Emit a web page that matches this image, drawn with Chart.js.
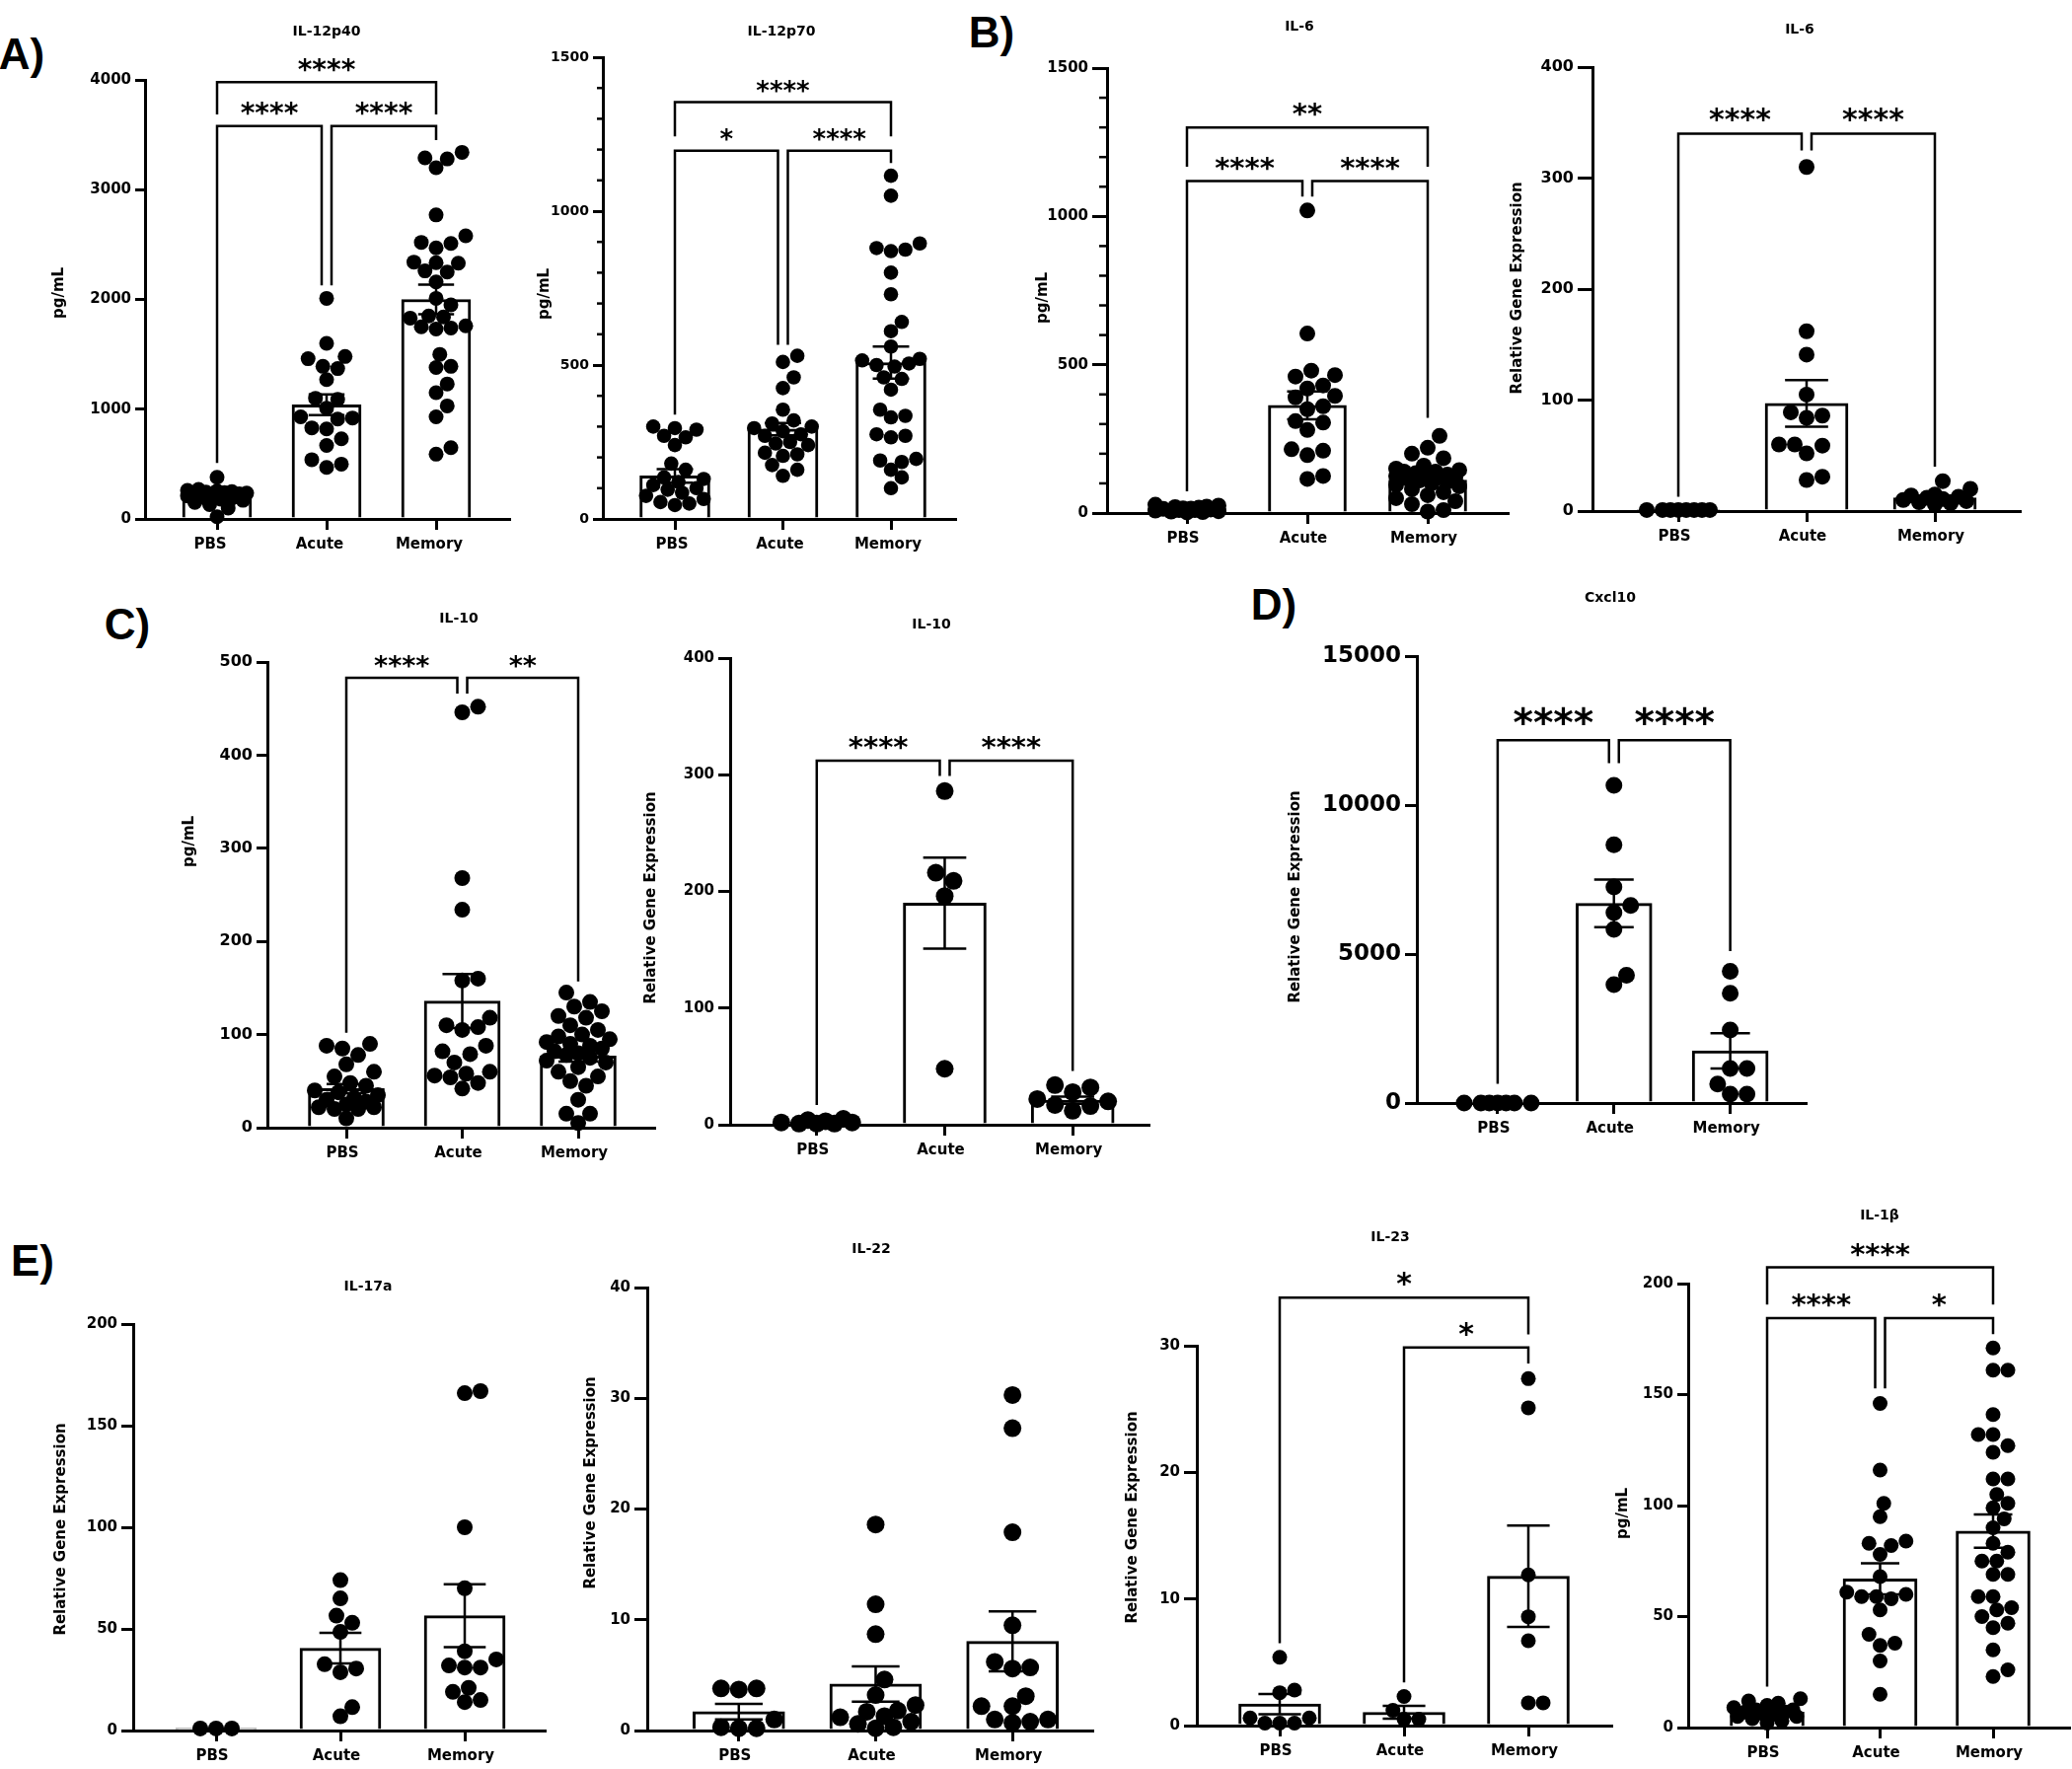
<!DOCTYPE html>
<html>
<head>
<meta charset="utf-8">
<script src="https://cdn.jsdelivr.net/npm/chart.js@4.4.1/dist/chart.umd.min.js"></script>
<style>
  body { margin: 0; background: #fff; }
  #page { position: relative; width: 2100px; height: 1793px; background: #fff; overflow: hidden; }
  #page canvas { position: absolute; }
  .letter { position: absolute; font: bold 44px "Liberation Sans", Arial, sans-serif; color: #000; line-height: 1; transform: translate(-50%, -50%); }
</style>
</head>
<body>
<div id="page"></div>
<script>
const FONT = 'DejaVu Sans';
const groups = ['PBS', 'Acute', 'Memory'];

// IL-12p40 (pg/mL)
const il12p40Pbs = [380, 270, 260, 255, 250, 245, 240, 235, 230, 225, 220, 210, 200, 190, 180, 170, 150, 130, 100, 20];
const il12p40Acute = [2010, 1600, 1480, 1460, 1390, 1370, 1270, 1100, 1090, 1010, 930, 920, 910, 830, 820, 730, 670, 540, 500, 470];
const il12p40Memory = [3340, 3290, 3280, 3200, 2770, 2580, 2520, 2510, 2470, 2340, 2335, 2330, 2260, 2250, 2160, 2010, 1950, 1850, 1840, 1830, 1760, 1750, 1740, 1730, 1500, 1390, 1380, 1230, 1150, 1030, 930, 650, 590];
const il12p40Mean = [215, 1040, 2000];
const il12p40Sem = [18, 95, 135];
const il12p40Ticks = [0, 1000, 2000, 3000, 4000];

// IL-12p70 (pg/mL)
const il12p70Pbs = [300, 295, 290, 270, 265, 240, 180, 160, 135, 130, 120, 110, 100, 95, 85, 75, 65, 55, 50, 45];
const il12p70Acute = [530, 510, 460, 425, 355, 320, 310, 300, 295, 285, 275, 270, 250, 245, 240, 215, 210, 205, 175, 160, 140];
const il12p70Memory = [1115, 1050, 895, 880, 875, 870, 800, 730, 640, 610, 560, 520, 515, 505, 500, 495, 460, 455, 420, 355, 335, 330, 275, 270, 265, 195, 190, 185, 160, 135, 100];
const il12p70Mean = [140, 292, 508];
const il12p70Sem = [22, 20, 52];
const il12p70Ticks = [0, 500, 1000, 1500];

// IL-6 (pg/mL)
const il6Pbs = [28, 25, 22, 20, 18, 16, 15, 14, 12, 10, 10, 8, 6, 5, 3, 2];
const il6Acute = [1020, 605, 480, 465, 460, 430, 420, 395, 390, 360, 350, 310, 305, 280, 215, 210, 195, 125, 115];
const il6Memory = [260, 220, 200, 185, 160, 150, 145, 140, 140, 135, 130, 130, 125, 120, 120, 115, 110, 105, 100, 95, 90, 80, 70, 60, 50, 40, 30, 10, 5];
const il6Mean = [15, 363, 111];
const il6Sem = [2, 47, 11];
const il6Ticks = [0, 500, 1000, 1500];

// IL-6 (relative gene expression)
const il6gPbs = [1, 1, 1, 1, 1, 1, 1, 1];
const il6gAcute = [310, 162, 141, 105, 89, 86, 84, 60, 60, 59, 52, 31, 28];
const il6gMemory = [27, 20, 15, 14, 13, 12, 11, 10, 9, 8, 7, 6];
const il6gMean = [1, 97, 12];
const il6gSem = [0.1, 21, 2];
const il6gTicks = [0, 100, 200, 300, 400];

// IL-10 (pg/mL)
const il10Pbs = [90, 88, 85, 78, 68, 60, 55, 48, 45, 40, 38, 35, 32, 30, 28, 25, 22, 22, 20, 20, 10];
const il10Acute = [452, 446, 268, 234, 160, 158, 118, 110, 108, 105, 88, 82, 79, 70, 60, 58, 56, 54, 48, 42];
const il10Memory = [145, 135, 130, 125, 120, 118, 110, 105, 100, 98, 95, 92, 90, 88, 85, 82, 80, 78, 75, 72, 70, 65, 60, 55, 50, 45, 30, 15, 15, 5];
const il10Mean = [42, 136, 77];
const il10Sem = [5, 29, 6];
const il10Ticks = [0, 100, 200, 300, 400, 500];

// IL-10 (relative gene expression)
const il10gPbs = [5, 4, 3, 2, 2, 1, 1, 1];
const il10gAcute = [286, 216, 209, 196, 48];
const il10gMemory = [34, 32, 28, 22, 20, 17, 16, 12];
const il10gMean = [2, 190, 21];
const il10gSem = [0.5, 39, 3];
const il10gTicks = [0, 100, 200, 300, 400];

// Cxcl10 (relative gene expression)
const cxcl10Pbs = [1, 1, 1, 1, 1, 1, 1];
const cxcl10Acute = [10660, 8670, 7250, 6630, 6390, 5830, 4290, 3970];
const cxcl10Memory = [4420, 3680, 2450, 1160, 1160, 640, 300, 300];
const cxcl10Mean = [1, 6700, 1750];
const cxcl10Sem = [0.1, 800, 590];
const cxcl10Ticks = [0, 5000, 10000, 15000];

// IL-17a (relative gene expression)
const il17Pbs = [1, 1, 1];
const il17Acute = [74, 65, 56.5, 53, 48.5, 32.6, 30.5, 28.7, 11.5, 7];
const il17Memory = [167, 166, 100, 70, 39, 35, 32, 31, 31, 21, 19, 15, 14];
const il17Mean = [1, 40.5, 56.5];
const il17Sem = [0, 7.5, 15.5];
const il17Ticks = [0, 50, 100, 150, 200];

// IL-22 (relative gene expression)
const il22Pbs = [3.8, 3.8, 3.7, 1.0, 0.3, 0.2, 0.2];
const il22Acute = [18.6, 11.4, 8.7, 4.6, 3.2, 2.3, 1.8, 1.7, 1.3, 1.2, 0.8, 0.6, 0.3, 0.2];
const il22Memory = [30.3, 27.3, 17.9, 9.5, 6.2, 5.7, 5.6, 3.1, 2.2, 2.2, 1.0, 1.0, 0.8, 0.7];
const il22Mean = [1.7, 4.2, 8.05];
const il22Sem = [0.7, 1.6, 2.7];
const il22Ticks = [0, 10, 20, 30, 40];

// IL-23 (relative gene expression)
const il23Pbs = [5.4, 2.8, 2.6, 0.6, 0.6, 0.2, 0.2, 0.2];
const il23Acute = [2.3, 1.2, 0.5, 0.5];
const il23Memory = [27.4, 25.1, 11.9, 8.6, 6.7, 1.8, 1.8];
const il23Mean = [1.7, 1.05, 11.8];
const il23Sem = [0.8, 0.5, 4.0];
const il23Ticks = [0, 10, 20, 30];

// IL-1b (pg/mL)
const il1bPbs = [13, 12, 11, 10, 9, 8, 8, 7, 7, 6, 6, 5, 5, 4, 3, 2];
const il1bAcute = [146, 116, 101, 95, 84, 83, 82, 78, 68, 61, 60, 59, 59, 58, 53, 42, 38, 37, 30, 15];
const il1bMemory = [171, 161, 161, 141, 132, 132, 127, 124, 112, 112, 105, 101, 99, 94, 90, 83, 79, 75, 75, 69, 69, 59, 59, 54, 53, 50, 47, 45, 35, 26, 23];
const il1bMean = [7, 67, 88.5];
const il1bSem = [0.8, 7, 7.5];
const il1bTicks = [0, 50, 100, 150, 200];

const PG = 'pg/mL';
const RGE = 'Relative Gene Expression';

// layout of every panel, page pixels
const panels = [
  { title: 'IL-12p40', ylab: PG, pts: [il12p40Pbs, il12p40Acute, il12p40Memory], mean: il12p40Mean, sem: il12p40Sem, ticks: il12p40Ticks,
    ax: 147, xe: 516, yt: 81, yb: 526, c0: 220, c2: 442, bw: 70, r: 7.5, tl: 10, tf: 15, tx: 331, ty: 32, lx: 60, ly: 297, sf: 28, xOff: -7,
    sig: [{a: 0, b: 1, t: '****', y: 3580, la: 510, lb: 2127}, {a: 1, b: 2, t: '****', y: 3580, la: 2127, lb: 3451}, {a: 0, b: 2, t: '****', y: 3980, la: 3686, lb: 3686}] },
  { title: 'IL-12p70', ylab: PG, pts: [il12p70Pbs, il12p70Acute, il12p70Memory], mean: il12p70Mean, sem: il12p70Sem, ticks: il12p70Ticks,
    ax: 611, xe: 968, yt: 58, yb: 526, c0: 684, c2: 903, bw: 71, r: 7.3, tl: 10, tf: 14, minor: 100, ml: 6, tx: 792, ty: 32, lx: 552, ly: 298, sf: 26, xOff: -3,
    sig: [{a: 0, b: 1, t: '*', y: 1196, la: 339, lb: 566}, {a: 1, b: 2, t: '****', y: 1196, la: 566, lb: 1156}, {a: 0, b: 2, t: '****', y: 1354, la: 1243, lb: 1243}] },
  { title: 'IL-6', ylab: PG, pts: [il6Pbs, il6Acute, il6Memory], mean: il6Mean, sem: il6Sem, ticks: il6Ticks,
    ax: 1122, xe: 1528, yt: 69, yb: 520, c0: 1203, c2: 1447, bw: 79, r: 8, tl: 15, tf: 15, minor: 100, ml: 8, tx: 1317, ty: 27, lx: 1057, ly: 302, sf: 29, xOff: -4,
    sig: [{a: 0, b: 1, t: '****', y: 1119, la: 73, lb: 1067}, {a: 1, b: 2, t: '****', y: 1119, la: 1067, lb: 321}, {a: 0, b: 2, t: '**', y: 1300, la: 1167, lb: 1167}] },
  { title: 'IL-6', ylab: RGE, pts: [il6gPbs, il6gAcute, il6gMemory], mean: il6gMean, sem: il6gSem, ticks: il6gTicks,
    ax: 1614, xe: 2047, yt: 68, yb: 518, c0: 1701, c2: 1961, bw: 84, r: 8, tl: 15, tf: 16, tx: 1824, ty: 30, lx: 1538, ly: 292, sf: 30, xOff: -4,
    sig: [{a: 0, b: 1, t: '****', y: 340, la: 13, lb: 325}, {a: 1, b: 2, t: '****', y: 340, la: 325, lb: 40}] },
  { title: 'IL-10', ylab: PG, pts: [il10Pbs, il10Acute, il10Memory], mean: il10Mean, sem: il10Sem, ticks: il10Ticks,
    ax: 271, xe: 663, yt: 671, yb: 1143, c0: 351, c2: 586, bw: 77, r: 8, tl: 11, tf: 16, tx: 465, ty: 627, lx: 192, ly: 853, sf: 27, xOff: -4,
    sig: [{a: 0, b: 1, t: '****', y: 483, la: 102, lb: 466}, {a: 1, b: 2, t: '**', y: 483, la: 466, lb: 157}] },
  { title: 'IL-10', ylab: RGE, pts: [il10gPbs, il10gAcute, il10gMemory], mean: il10gMean, sem: il10gSem, ticks: il10gTicks,
    ax: 740, xe: 1165, yt: 667, yb: 1140, c0: 828, c2: 1088, bw: 84, r: 9, tl: 12, tf: 15, tx: 944, ty: 633, lx: 660, ly: 910, sf: 29, xOff: -4,
    sig: [{a: 0, b: 1, t: '****', y: 312, la: 17, lb: 299}, {a: 1, b: 2, t: '****', y: 312, la: 299, lb: 46}] },
  { title: 'Cxcl10', ylab: RGE, pts: [cxcl10Pbs, cxcl10Acute, cxcl10Memory], mean: cxcl10Mean, sem: cxcl10Sem, ticks: cxcl10Ticks,
    ax: 1436, xe: 1831, yt: 665, yb: 1118, c0: 1518, c2: 1754, bw: 77, r: 8.5, tl: 12, tf: 23, tx: 1632, ty: 606, lx: 1313, ly: 909, sf: 39, xOff: -4,
    sig: [{a: 0, b: 1, t: '****', y: 12181, la: 644, lb: 11408}, {a: 1, b: 2, t: '****', y: 12181, la: 11408, lb: 5099}] },
  { title: 'IL-17a', ylab: RGE, pts: [il17Pbs, il17Acute, il17Memory], mean: il17Mean, sem: il17Sem, ticks: il17Ticks,
    ax: 135, xe: 552, yt: 1342, yb: 1754, c0: 219, c2: 471, bw: 82, r: 8, tl: 12, tf: 15, tx: 373, ty: 1304, lx: 62, ly: 1550, sf: 28, xOff: -4, sig: [] },
  { title: 'IL-22', ylab: RGE, pts: [il22Pbs, il22Acute, il22Memory], mean: il22Mean, sem: il22Sem, ticks: il22Ticks,
    ax: 656, xe: 1108, yt: 1305, yb: 1754, c0: 749, c2: 1027, bw: 93, r: 9, tl: 13, tf: 15, tx: 883, ty: 1266, lx: 599, ly: 1503, sf: 28, xOff: -4, sig: [] },
  { title: 'IL-23', ylab: RGE, pts: [il23Pbs, il23Acute, il23Memory], mean: il23Mean, sem: il23Sem, ticks: il23Ticks,
    ax: 1213, xe: 1633, yt: 1364, yb: 1749, c0: 1297, c2: 1549, bw: 83, r: 7.5, tl: 13, tf: 15, tx: 1409, ty: 1254, lx: 1148, ly: 1538, sf: 30, xOff: -4,
    sig: [{a: 0, b: 2, t: '*', y: 33.8, la: 6.5, lb: 30.9}, {a: 1, b: 2, t: '*', y: 29.86, la: 3.4, lb: 28.6}] },
  { title: 'IL-1β', ylab: PG, pts: [il1bPbs, il1bAcute, il1bMemory], mean: il1bMean, sem: il1bSem, ticks: il1bTicks,
    ax: 1711, xe: 2097, yt: 1301, yb: 1751, c0: 1791, c2: 2020, bw: 75, r: 7.5, tl: 11, tf: 15, tx: 1905, ty: 1232, lx: 1645, ly: 1534, sf: 29, xOff: -4,
    sig: [{a: 0, b: 1, t: '****', y: 184.4, la: 18.5, lb: 152.8}, {a: 1, b: 2, t: '*', y: 184.4, la: 152.8, lb: 177.2}, {a: 0, b: 2, t: '****', y: 207.3, la: 190.6, lb: 190.6}] }
];

const letters = [['A)', 22, 55], ['B)', 1005, 33], ['C)', 129, 633], ['D)', 1291, 613], ['E)', 33, 1278]];

const page = document.getElementById('page');

letters.forEach(([t, x, y]) => {
  const d = document.createElement('div');
  d.className = 'letter';
  d.textContent = t;
  d.style.left = x + 'px';
  d.style.top = y + 'px';
  page.appendChild(d);
});

// spread the dots of one group sideways so they do not pile up (beeswarm)
function swarm(vals, gi, p, ymax) {
  const ppy = (p.yb - p.yt) / ymax;
  const sp = (p.c2 - p.c0) / 2;
  const lim = p.bw * 0.45;
  const placed = [];
  const out = [];
  vals.slice().sort((a, b) => a - b).forEach(v => {
    const py = v * ppy;
    let best = 0, bestGap = -1;
    for (let k = 0; ; k++) {
      const off = (k % 2 ? 1 : -1) * Math.ceil(k / 2) * p.r * 0.5;
      if (Math.abs(off) > lim) break;
      let gap = Infinity;
      placed.forEach(q => { gap = Math.min(gap, Math.hypot(q[0] - off, q[1] - py)); });
      if (gap >= p.r * 1.84) { best = off; break; }
      if (gap > bestGap) { bestGap = gap; best = off; }
    }
    placed.push([best, py]);
    out.push({ x: gi + best / sp, y: v });
  });
  return out;
}

function extras(p, left, top, ymax) {
  return {
    id: 'extras',
    afterDraw(chart) {
      const ctx = chart.ctx, xs = chart.scales.x, ys = chart.scales.y;
      ctx.save();
      ctx.fillStyle = '#000';
      ctx.strokeStyle = '#000';

      // minor ticks
      if (p.minor) {
        ctx.lineWidth = 2.5;
        const ax = chart.chartArea.left;
        for (let v = p.minor; v < ymax; v += p.minor) {
          if (p.ticks.includes(v)) continue;
          const y = ys.getPixelForValue(v);
          ctx.beginPath();
          ctx.moveTo(ax - p.ml, y);
          ctx.lineTo(ax, y);
          ctx.stroke();
        }
      }

      // error bars (mean +/- SEM)
      ctx.lineWidth = 2.5;
      p.mean.forEach((m, i) => {
        const x = xs.getPixelForValue(i);
        const hi = ys.getPixelForValue(m + p.sem[i]);
        const lo = ys.getPixelForValue(Math.max(0, m - p.sem[i]));
        const c = p.bw * 0.26;
        ctx.beginPath();
        ctx.moveTo(x, lo); ctx.lineTo(x, hi);
        ctx.moveTo(x - c, hi); ctx.lineTo(x + c, hi);
        ctx.moveTo(x - c, lo); ctx.lineTo(x + c, lo);
        ctx.stroke();
      });

      // significance brackets
      p.sig.forEach(s => {
        const same = o => o !== s && Math.abs(o.y - s.y) < 1e-9;
        let xa = xs.getPixelForValue(s.a), xb = xs.getPixelForValue(s.b);
        if (p.sig.some(o => same(o) && o.b === s.a)) xa += 5;
        if (p.sig.some(o => same(o) && o.a === s.b)) xb -= 5;
        const yl = ys.getPixelForValue(s.y);
        ctx.lineWidth = 2.5;
        ctx.beginPath();
        ctx.moveTo(xa, ys.getPixelForValue(s.la));
        ctx.lineTo(xa, yl);
        ctx.lineTo(xb, yl);
        ctx.lineTo(xb, ys.getPixelForValue(s.lb));
        ctx.stroke();
        ctx.font = 'bold ' + p.sf + 'px "' + FONT + '"';
        ctx.textAlign = 'center';
        ctx.textBaseline = 'alphabetic';
        const mt = ctx.measureText(s.t);
        const cy = yl - p.sf * 0.62;
        ctx.fillText(s.t, (xa + xb) / 2, cy + (mt.actualBoundingBoxAscent - mt.actualBoundingBoxDescent) / 2);
      });

      // title
      ctx.font = 'bold 14px "' + FONT + '"';
      ctx.textAlign = 'center';
      ctx.textBaseline = 'middle';
      ctx.fillText(p.title, p.tx - left, p.ty - top);

      // y axis title
      ctx.font = 'bold 15px "' + FONT + '"';
      ctx.translate(p.lx - left, p.ly - top);
      ctx.rotate(-Math.PI / 2);
      ctx.fillText(p.ylab, 0, 0);
      ctx.restore();
    }
  };
}

panels.forEach(p => {
  const ymax = p.ticks[p.ticks.length - 1];
  const left = p.lx - 15;
  const top = p.ty - 20;
  const right = p.xe + 8;
  const bottom = p.yb + 45;
  const w = right - left, h = bottom - top;
  const sp = (p.c2 - p.c0) / 2;

  const cv = document.createElement('canvas');
  cv.width = w; cv.height = h;
  cv.style.left = left + 'px';
  cv.style.top = top + 'px';
  cv.style.width = w + 'px';
  cv.style.height = h + 'px';
  page.appendChild(cv);

  const dots = [];
  p.pts.forEach((vals, gi) => swarm(vals, gi, p, ymax).forEach(d => dots.push(d)));

  new Chart(cv, {
    type: 'bar',
    data: {
      datasets: [
        { type: 'scatter', data: dots, pointRadius: p.r, pointHoverRadius: p.r, pointBackgroundColor: '#000',
          pointBorderWidth: 0, clip: false, order: 0 },
        { type: 'bar', data: p.mean.map((m, i) => ({ x: i, y: m })), backgroundColor: '#fff', borderColor: '#000',
          borderWidth: 3, borderSkipped: 'start', barThickness: p.bw, clip: false, order: 1 }
      ]
    },
    options: {
      responsive: false,
      animation: false,
      devicePixelRatio: 1,
      events: [],
      layout: { padding: { left: 0, right: 8, top: p.yt - top, bottom: 0 } },
      plugins: { legend: { display: false }, tooltip: { enabled: false }, title: { display: false } },
      scales: {
        x: {
          type: 'linear', z: 1, offset: false,
          min: -(p.c0 - p.ax) / sp, max: 2 + (p.xe - p.c2) / sp,
          grid: { display: true, offset: false, drawOnChartArea: false, drawTicks: true, tickLength: 11, tickWidth: 3, lineWidth: 3, color: '#000' },
          border: { display: true, color: '#000', width: 3 },
          ticks: { autoSkip: false, maxRotation: 0, padding: 6, labelOffset: p.xOff, color: '#000',
            font: { family: FONT, weight: 'bold', size: 15 },
            callback: v => groups[v] !== undefined ? groups[v] : '' },
          afterBuildTicks: s => { s.ticks = groups.map((g, i) => ({ value: i })); },
          afterFit: s => { s.height = 45; }
        },
        y: {
          type: 'linear', z: 1, min: 0, max: ymax,
          grid: { display: true, drawOnChartArea: false, drawTicks: true, tickLength: p.tl, tickWidth: 3, lineWidth: 3, color: '#000' },
          border: { display: true, color: '#000', width: 3 },
          ticks: { autoSkip: false, padding: 4, color: '#000', font: { family: FONT, weight: 'bold', size: p.tf },
            callback: v => String(v) },
          afterBuildTicks: s => { s.ticks = p.ticks.map(v => ({ value: v })); },
          afterFit: s => { s.width = p.ax - left; }
        }
      }
    },
    plugins: [extras(p, left, top, ymax)]
  });
});
</script>
</body>
</html>
